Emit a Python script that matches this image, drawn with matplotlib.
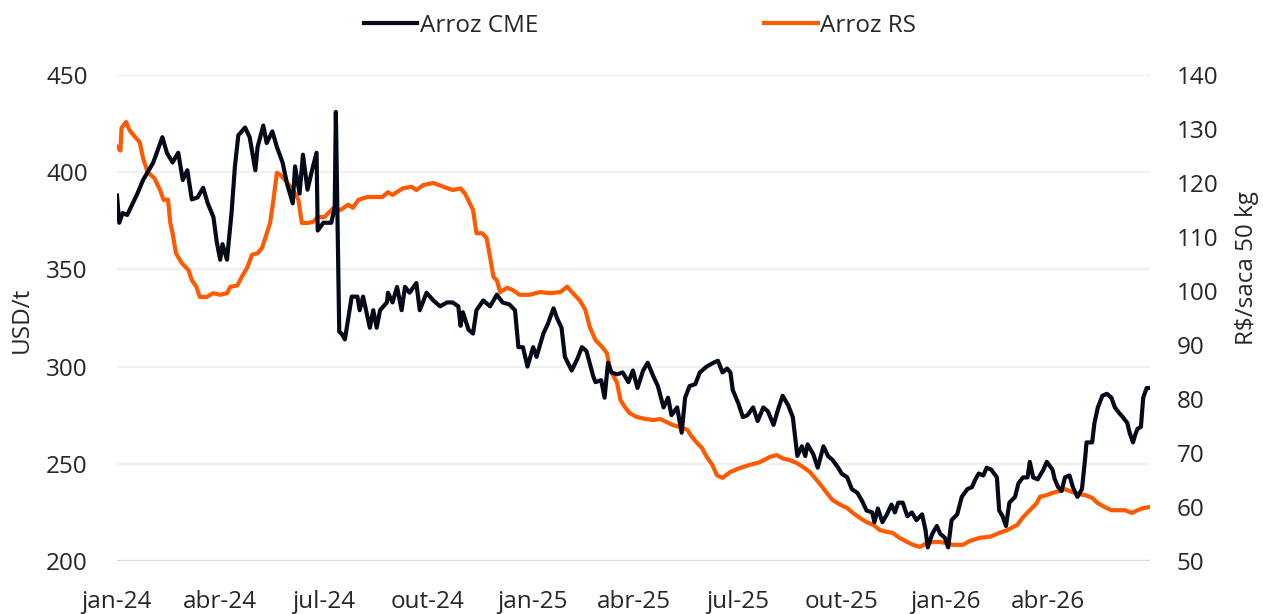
import matplotlib
matplotlib.use("Agg")
import matplotlib.pyplot as plt
import matplotlib.transforms as mtransforms
from matplotlib.lines import Line2D
import pandas as pd

# ---------------- data ----------------
cme_dates = [
    "2024-01-01", "2024-01-03", "2024-01-06", "2024-01-10", "2024-01-19", "2024-01-24",
    "2024-02-02", "2024-02-10", "2024-02-14", "2024-02-19", "2024-02-24", "2024-02-28",
    "2024-03-03", "2024-03-07", "2024-03-12", "2024-03-17", "2024-03-21", "2024-03-26",
    "2024-03-29", "2024-04-01", "2024-04-03", "2024-04-07", "2024-04-11", "2024-04-14",
    "2024-04-17", "2024-04-23", "2024-04-27", "2024-05-02", "2024-05-04", "2024-05-09",
    "2024-05-12", "2024-05-17", "2024-05-21", "2024-05-26", "2024-05-30", "2024-06-04",
    "2024-06-06", "2024-06-10", "2024-06-13", "2024-06-17", "2024-06-21", "2024-06-25",
    "2024-06-26", "2024-07-01", "2024-07-08", "2024-07-11", "2024-07-12", "2024-07-15",
    "2024-07-17", "2024-07-20", "2024-07-26", "2024-07-31", "2024-08-02", "2024-08-05",
    "2024-08-11", "2024-08-14", "2024-08-17", "2024-08-20", "2024-08-26", "2024-08-27",
    "2024-08-31", "2024-09-04", "2024-09-08", "2024-09-11", "2024-09-15", "2024-09-21",
    "2024-09-24", "2024-09-30", "2024-10-06", "2024-10-12", "2024-10-18", "2024-10-23",
    "2024-10-28", "2024-10-30", "2024-11-01", "2024-11-06", "2024-11-10", "2024-11-13",
    "2024-11-19", "2024-11-25", "2024-12-01", "2024-12-06", "2024-12-12", "2024-12-17",
    "2024-12-20", "2024-12-24", "2024-12-28", "2025-01-02", "2025-01-05", "2025-01-11",
    "2025-01-15", "2025-01-20", "2025-01-23", "2025-01-27", "2025-01-30", "2025-02-05",
    "2025-02-10", "2025-02-14", "2025-02-18", "2025-02-24", "2025-02-26", "2025-03-03",
    "2025-03-06", "2025-03-09", "2025-03-12", "2025-03-17", "2025-03-22", "2025-03-27",
    "2025-03-31", "2025-04-04", "2025-04-09", "2025-04-13", "2025-04-18", "2025-04-22",
    "2025-04-27", "2025-05-01", "2025-05-04", "2025-05-09", "2025-05-13", "2025-05-16",
    "2025-05-20", "2025-05-25", "2025-05-29", "2025-06-04", "2025-06-10", "2025-06-14",
    "2025-06-18", "2025-06-22", "2025-06-25", "2025-06-27", "2025-07-02", "2025-07-06",
    "2025-07-10", "2025-07-15", "2025-07-19", "2025-07-24", "2025-07-28", "2025-08-02",
    "2025-08-06", "2025-08-10", "2025-08-15", "2025-08-19", "2025-08-23", "2025-08-27",
    "2025-08-30", "2025-09-01", "2025-09-06", "2025-09-10", "2025-09-15", "2025-09-19",
    "2025-09-23", "2025-09-28", "2025-10-01", "2025-10-06", "2025-10-10", "2025-10-15",
    "2025-10-19", "2025-10-23", "2025-10-28", "2025-10-30", "2025-11-02", "2025-11-06",
    "2025-11-10", "2025-11-14", "2025-11-17", "2025-11-20", "2025-11-24", "2025-11-28",
    "2025-12-02", "2025-12-06", "2025-12-11", "2025-12-14", "2025-12-16", "2025-12-20",
    "2025-12-24", "2025-12-27", "2025-12-31", "2026-01-03", "2026-01-06", "2026-01-11",
    "2026-01-15", "2026-01-20", "2026-01-24", "2026-01-27", "2026-01-30", "2026-02-03",
    "2026-02-06", "2026-02-10", "2026-02-15", "2026-02-17", "2026-02-20", "2026-02-23",
    "2026-02-26", "2026-03-03", "2026-03-06", "2026-03-10", "2026-03-14", "2026-03-16",
    "2026-03-19", "2026-03-23", "2026-03-28", "2026-03-31", "2026-04-05", "2026-04-07",
    "2026-04-10", "2026-04-13", "2026-04-16", "2026-04-20", "2026-04-23", "2026-04-27",
    "2026-05-01", "2026-05-04", "2026-05-05", "2026-05-10", "2026-05-12", "2026-05-15",
    "2026-05-19", "2026-05-23", "2026-05-27", "2026-05-30", "2026-06-03", "2026-06-06",
    "2026-06-10", "2026-06-12", "2026-06-15", "2026-06-17", "2026-06-19", "2026-06-22",
    "2026-06-24", "2026-06-27", "2026-06-30",
]
cme_values = [
    388, 374, 379, 378, 389, 396,
    405, 418, 410, 405, 410, 396,
    401, 386, 387, 392, 384, 377,
    364, 355, 363, 355, 379, 403,
    419, 423, 418, 401, 413, 424,
    415, 421, 413, 405, 394, 384,
    403, 389, 409, 391, 401, 410,
    370, 374, 374, 382, 431, 318,
    317, 314, 336, 336, 329, 336,
    320, 329, 320, 329, 333, 338,
    333, 341, 329, 341, 338, 343,
    329, 338, 334, 331, 333, 333,
    331, 321, 328, 319, 317, 329,
    334, 331, 337, 333, 332, 329,
    310, 310, 300, 310, 305, 317,
    322, 330, 325, 320, 305, 298,
    304, 310, 308, 295, 292, 293,
    284, 302, 297, 296, 297, 292,
    298, 289, 298, 302, 295, 290,
    279, 284, 275, 279, 266, 284,
    290, 291, 297, 300, 302, 303,
    297, 299, 297, 288, 281, 274,
    275, 279, 272, 279, 277, 270,
    278, 285, 280, 274, 254, 259,
    254, 260, 255, 248, 259, 254,
    252, 248, 245, 243, 237, 235,
    231, 226, 225, 220, 227, 220,
    224, 229, 225, 230, 230, 223,
    225, 221, 224, 216, 207, 214,
    218, 214, 212, 207, 221, 224,
    233, 237, 238, 242, 245, 244,
    248, 247, 243, 226, 223, 218,
    230, 233, 240, 243, 243, 251,
    243, 242, 247, 251, 247, 242,
    238, 236, 243, 244, 238, 233,
    237, 254, 261, 261, 271, 279,
    285, 286, 284, 279, 276, 274,
    271, 266, 261, 265, 268, 269,
    284, 289, 289,
]

rs_dates = [
    "2024-01-01", "2024-01-04", "2024-01-05", "2024-01-09", "2024-01-12", "2024-01-17",
    "2024-01-21", "2024-01-24", "2024-01-28", "2024-02-03", "2024-02-08", "2024-02-11",
    "2024-02-15", "2024-02-17", "2024-02-19", "2024-02-22", "2024-02-27", "2024-03-04",
    "2024-03-07", "2024-03-11", "2024-03-14", "2024-03-20", "2024-03-26", "2024-04-01",
    "2024-04-07", "2024-04-10", "2024-04-16", "2024-04-20", "2024-04-25", "2024-04-29",
    "2024-05-04", "2024-05-08", "2024-05-11", "2024-05-15", "2024-05-18", "2024-05-21",
    "2024-05-24", "2024-05-28", "2024-06-02", "2024-06-06", "2024-06-09", "2024-06-12",
    "2024-06-17", "2024-06-22", "2024-06-26", "2024-07-02", "2024-07-10", "2024-07-16",
    "2024-07-23", "2024-07-27", "2024-08-01", "2024-08-09", "2024-08-16", "2024-08-22",
    "2024-08-27", "2024-08-31", "2024-09-09", "2024-09-17", "2024-09-21", "2024-09-27",
    "2024-10-06", "2024-10-15", "2024-10-23", "2024-10-30", "2024-11-03", "2024-11-07",
    "2024-11-10", "2024-11-13", "2024-11-18", "2024-11-22", "2024-11-25", "2024-11-28",
    "2024-12-01", "2024-12-04", "2024-12-10", "2024-12-15", "2024-12-21", "2024-12-30",
    "2025-01-08", "2025-01-17", "2025-01-26", "2025-02-01", "2025-02-06", "2025-02-12",
    "2025-02-17", "2025-02-21", "2025-02-26", "2025-03-04", "2025-03-08", "2025-03-11",
    "2025-03-17", "2025-03-20", "2025-03-24", "2025-03-28", "2025-04-03", "2025-04-11",
    "2025-04-18", "2025-04-24", "2025-04-30", "2025-05-05", "2025-05-11", "2025-05-18",
    "2025-05-22", "2025-05-26", "2025-05-31", "2025-06-04", "2025-06-09", "2025-06-13",
    "2025-06-18", "2025-06-25", "2025-07-03", "2025-07-12", "2025-07-21", "2025-07-30",
    "2025-08-05", "2025-08-10", "2025-08-16", "2025-08-23", "2025-08-28", "2025-09-03",
    "2025-09-09", "2025-09-14", "2025-09-18", "2025-09-23", "2025-09-30", "2025-10-06",
    "2025-10-11", "2025-10-17", "2025-10-23", "2025-10-29", "2025-11-04", "2025-11-10",
    "2025-11-15", "2025-11-21", "2025-11-28", "2025-12-03", "2025-12-09", "2025-12-15",
    "2025-12-21", "2025-12-27", "2026-01-02", "2026-01-07", "2026-01-16", "2026-01-22",
    "2026-01-31", "2026-02-09", "2026-02-17", "2026-02-24", "2026-03-05", "2026-03-10",
    "2026-03-16", "2026-03-22", "2026-03-25", "2026-03-31", "2026-04-05", "2026-04-12",
    "2026-04-16", "2026-04-22", "2026-04-27", "2026-05-04", "2026-05-10", "2026-05-15",
    "2026-05-21", "2026-05-27", "2026-06-02", "2026-06-08", "2026-06-14", "2026-06-19",
    "2026-06-24", "2026-06-30",
]
rs_values = [
    126.7, 126.0, 130.2, 131.3, 129.8, 128.5,
    127.6, 124.6, 122.0, 120.9, 118.7, 116.9,
    116.9, 112.6, 110.7, 107.0, 105.2, 103.9,
    102.0, 100.8, 98.9, 98.9, 99.6, 99.3,
    99.6, 100.8, 101.0, 102.6, 104.4, 106.7,
    107.0, 108.0, 110.0, 112.6, 116.9, 121.9,
    121.5, 120.6, 119.3, 118.0, 116.9, 112.6,
    112.6, 112.8, 113.7, 113.7, 115.4, 115.0,
    116.0, 115.4, 116.9, 117.4, 117.4, 117.4,
    118.3, 117.8, 119.0, 119.3, 118.7, 119.6,
    120.0, 119.3, 118.7, 119.0, 118.0, 116.3,
    115.0, 110.7, 110.7, 109.8, 106.3, 102.6,
    102.0, 99.8, 100.6, 100.2, 99.3, 99.3,
    99.8, 99.6, 99.8, 100.8, 99.6, 98.3,
    96.5, 93.3, 90.9, 89.6, 88.5, 85.4,
    83.0, 79.8, 78.5, 77.4, 76.7, 76.3,
    76.1, 76.3, 75.7, 75.2, 74.8, 74.3,
    73.0, 72.0, 70.9, 69.3, 67.8, 65.9,
    65.4, 66.5, 67.2, 67.8, 68.3, 69.3,
    69.6, 69.0, 68.7, 68.1, 67.4, 66.5,
    65.0, 63.7, 62.6, 61.3, 60.4, 59.8,
    58.9, 58.0, 57.2, 56.7, 55.7, 55.4,
    55.2, 54.3, 53.5, 53.0, 52.6, 53.3,
    53.5, 53.5, 53.3, 53.0, 53.0, 53.7,
    54.3, 54.5, 55.2, 55.7, 56.7, 58.1,
    59.4, 60.7, 61.9, 62.2, 62.6, 63.0,
    63.3, 62.8, 62.4, 62.2, 61.7, 60.7,
    60.0, 59.4, 59.4, 59.4, 58.9, 59.4,
    59.8, 60.0,
]

xtick_dates = ["2024-01-01", "2024-04-01", "2024-07-01", "2024-10-01", "2025-01-01",
               "2025-04-01", "2025-07-01", "2025-10-01", "2026-01-01", "2026-04-01"]
xtick_labels = ["jan-24", "abr-24", "jul-24", "out-24", "jan-25",
                "abr-25", "jul-25", "out-25", "jan-26", "abr-26"]
left_ticks = [200, 250, 300, 350, 400, 450]
right_ticks = [50, 60, 70, 80, 90, 100, 110, 120, 130, 140]

series_names = ["Arroz CME", "Arroz RS"]
left_label = "USD/t"
right_label = "R$/saca 50 kg"

# ---------------- style ----------------
FONT = ["Open Sans", "DejaVu Sans"]
plt.rcParams["font.family"] = FONT
TXT = "#262626"
FS = 17.5
BLACK = "#050a18"
ORANGE = "#ff5a00"

fig = plt.figure(figsize=(12.63, 6.14), dpi=100)
# main axes holds the RS series (bottom layer), twin holds CME (top layer)
ax = fig.add_axes([117 / 1263, 1 - 561 / 614, (1150 - 117) / 1263, (561 - 75) / 614])
ax2 = ax.twinx()

cme_x = pd.to_datetime(cme_dates)
rs_x = pd.to_datetime(rs_dates)

ax.plot(rs_x, rs_values, color=ORANGE, lw=3.0, solid_joinstyle="round", zorder=3)
ax2.plot(cme_x, cme_values, color=BLACK, lw=3.0, solid_joinstyle="round", zorder=3)

ax.set_ylim(50, 140)
ax2.set_ylim(200, 450)
ax.set_xlim(pd.Timestamp("2024-01-01"), pd.Timestamp("2026-06-30"))

# grid lines at the left-axis (CME) ticks, drawn beneath both series
trans = mtransforms.blended_transform_factory(ax.transAxes, ax2.transData)
for v in left_ticks:
    col = "#d9d9d9" if v == left_ticks[0] else "#f0f0f0"
    ax.add_line(Line2D([0, 1], [v, v], transform=trans, color=col, lw=1.6, zorder=1))

# CME axis on left, RS axis on right
ax2.yaxis.tick_left()
ax2.yaxis.set_label_position("left")
ax.yaxis.tick_right()

ax2.set_yticks(left_ticks)
ax.set_yticks(right_ticks)
ax.set_xticks(pd.to_datetime(xtick_dates))
ax.set_xticklabels(xtick_labels)

for a in (ax, ax2):
    for s in a.spines.values():
        s.set_visible(False)
    a.tick_params(length=0, labelsize=FS, labelcolor=TXT)

ax2.tick_params(axis="y", pad=21)
ax.tick_params(axis="y", pad=19)
ax.tick_params(axis="x", pad=21)

fig.text(22 / 1263, 1 - 320 / 614, left_label, rotation=90, ha="center", va="center",
         fontsize=FS, color=TXT)
fig.text(1247 / 1263, 1 - 268 / 614, right_label, rotation=90, ha="center", va="center",
         fontsize=FS, color=TXT)

handles = [Line2D([], [], color=BLACK, lw=3.0), Line2D([], [], color=ORANGE, lw=3.0)]
fig.legend(handles, series_names, loc="center", bbox_to_anchor=(640 / 1263, 1 - 26 / 614),
           ncol=2, frameon=False, fontsize=FS, handlelength=2.2, handletextpad=0.1,
           columnspacing=9.3, labelcolor=TXT, borderaxespad=0)

fig.savefig("out.png", dpi=100)
